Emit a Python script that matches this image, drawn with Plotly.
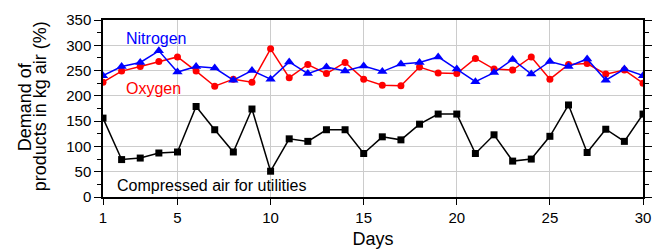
import plotly.graph_objects as go

days = list(range(1, 31))
nitrogen = [240, 258, 266, 289, 247, 258, 255, 231, 250, 233,
            267, 244, 257, 249, 259, 248, 263, 266, 277, 253,
            228, 246, 272, 243, 268, 258, 273, 231, 253, 240]
oxygen = [227, 249, 258, 268, 277, 249, 219, 233, 227, 293,
          236, 262, 244, 266, 233, 221, 220, 257, 245, 244,
          274, 253, 251, 277, 233, 262, 264, 243, 251, 225]
compressed_air = [156, 74, 77, 87, 89, 179, 133, 89, 174, 51,
                  115, 110, 133, 133, 86, 119, 113, 144, 164, 164,
                  86, 123, 71, 75, 120, 182, 88, 134, 110, 164]
x_ticks = [1, 5, 10, 15, 20, 25, 30]

fig = go.Figure()
fig.add_trace(go.Scatter(x=days, y=compressed_air, mode="lines+markers",
                         line=dict(color="black", width=1.5),
                         marker=dict(symbol="square", size=7, color="black")))
fig.add_trace(go.Scatter(x=days, y=oxygen, mode="lines+markers",
                         line=dict(color="#ff0000", width=1.5),
                         marker=dict(symbol="circle", size=7, color="#ff0000")))
fig.add_trace(go.Scatter(x=days, y=nitrogen, mode="lines+markers",
                         line=dict(color="#0000ff", width=1.5),
                         marker=dict(symbol="triangle-up", size=9, color="#0000ff")))

font = "Liberation Sans, Arial, sans-serif"
fig.add_annotation(x=2.13, y=313, text="Nitrogen", showarrow=False, xanchor="left",
                   font=dict(color="#0000ff", size=16, family=font))
fig.add_annotation(x=2.13, y=215, text="Oxygen", showarrow=False, xanchor="left",
                   font=dict(color="#ff0000", size=16, family=font))
fig.add_annotation(x=1.62, y=22, text="Compressed air for utilities", showarrow=False,
                   xanchor="left", font=dict(color="black", size=16, family=font))

# y-axis title as two tightly spaced rotated lines
fig.add_annotation(xref="paper", yref="paper", x=-0.145, y=0.511, text="Demand of",
                   textangle=-90, showarrow=False, xanchor="center", yanchor="middle",
                   font=dict(size=18, family=font, color="black"))
fig.add_annotation(xref="paper", yref="paper", x=-0.117, y=0.511, text="products in kg air (%)",
                   textangle=-90, showarrow=False, xanchor="center", yanchor="middle",
                   font=dict(size=18, family=font, color="black"))

fig.update_layout(
    width=653, height=250,
    margin=dict(l=103, r=10, t=20, b=53),
    paper_bgcolor="white", plot_bgcolor="white",
    showlegend=False,
    font=dict(family=font, size=15, color="black"),
)
fig.update_xaxes(range=[1, 30], tickvals=x_ticks, ticks="outside", ticklen=6,
                 tickcolor="black", showline=True, linecolor="black", linewidth=1.5,
                 mirror=True, showgrid=True, gridcolor="#cccccc", gridwidth=1,
                 zeroline=False, automargin=False,
                 title=dict(text="Days", font=dict(size=18), standoff=8),
                 tickfont=dict(size=15))
fig.update_yaxes(range=[0, 350], dtick=50, ticks="outside", ticklen=7,
                 tickcolor="black", showline=True, linecolor="black", linewidth=1.5,
                 mirror="ticks", showgrid=True, gridcolor="#cccccc", gridwidth=1,
                 zeroline=False, automargin=False,
                 minor=dict(dtick=25, ticks="outside", ticklen=4, tickcolor="black", showgrid=False),
                 tickfont=dict(size=15))

fig.write_html("out.html", config={"displayModeBar": False},
               post_script="document.body.style.margin='0';document.body.style.overflow='hidden';")
